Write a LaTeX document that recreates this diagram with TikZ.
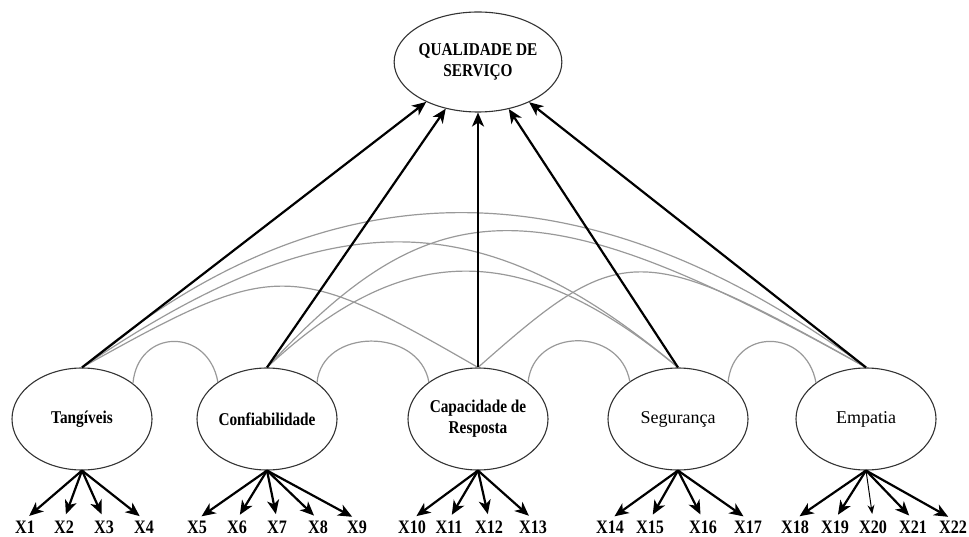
\documentclass[tikz,border=0pt]{standalone}
\usepackage{fontspec}
\setmainfont{Liberation Serif}
\newfontfamily\condserif{Liberation Serif}[FakeStretch=0.85]
\usepackage{tikz}
\usetikzlibrary{shapes,arrows,arrows.meta,positioning}
\tikzstyle{factor} = [ellipse, draw=black!80, line width=1.1pt,
    minimum width=140pt, minimum height=102pt, inner sep=0pt, align=center,
    font=\fontsize{18}{21}\selectfont]
\tikzstyle{condlabel} = [font=\condserif\bfseries\fontsize{18}{21}\selectfont]
\tikzstyle{indicator} = [inner xsep=1pt, inner ysep=1pt,
    font=\condserif\bfseries\fontsize{19}{21}\selectfont]
\tikzstyle{line} = [draw, line width=2.2pt, -{Stealth[length=14pt, width=12pt, inset=4pt]}]
\tikzstyle{itemline} = [line, shorten >=5.5pt]
\tikzstyle{weakline} = [draw, line width=1pt, shorten >=5.5pt,
    -{Stealth[length=9pt, width=7pt, inset=3pt]}]
\tikzstyle{cov} = [draw, black!40, line width=1.2pt]

\begin{document}
\begin{tikzpicture}[x=1pt, y=-1pt]
    \useasboundingbox (0,0) rectangle (969,537);
    % Place nodes
    \node [factor, condlabel] (tang) at (82,419) {Tangíveis};
    \node [factor, condlabel, right of=tang, node distance=185pt] (conf) {Confiabilidade};
    \node [factor, condlabel, right of=conf, node distance=211pt] (cap) {Capacidade de\\Resposta};
    \node [factor, right of=cap, node distance=200pt] (seg) {Segurança};
    \node [factor, right of=seg, node distance=188pt] (emp) {Empatia};
    \node [factor, condlabel, minimum width=160pt, minimum height=100pt,
        above of=cap, node distance=357pt] (qs) {QUALIDADE DE\\SERVIÇO};
    % Indicators
    \node [indicator] (x1) at (25,527) {X1};
    \node [indicator] (x2) at (64,527) {X2};
    \node [indicator] (x3) at (104,527) {X3};
    \node [indicator] (x4) at (144,527) {X4};
    \node [indicator] (x5) at (197,527) {X5};
    \node [indicator] (x6) at (237,527) {X6};
    \node [indicator] (x7) at (277,527) {X7};
    \node [indicator] (x8) at (318,527) {X8};
    \node [indicator] (x9) at (357,527) {X9};
    \node [indicator] (x10) at (412,527) {X10};
    \node [indicator] (x11) at (449,527) {X11};
    \node [indicator] (x12) at (489,527) {X12};
    \node [indicator] (x13) at (533,527) {X13};
    \node [indicator] (x14) at (610,527) {X14};
    \node [indicator] (x15) at (650,527) {X15};
    \node [indicator] (x16) at (703,527) {X16};
    \node [indicator] (x17) at (748,527) {X17};
    \node [indicator] (x18) at (795,527) {X18};
    \node [indicator] (x19) at (835,527) {X19};
    \node [indicator] (x20) at (873,527) {X20};
    \node [indicator] (x21) at (913,527) {X21};
    \node [indicator] (x22) at (953,527) {X22};
    % Covariances
    \path [cov] (tang.35) .. controls +(5,-55) and +(-10,-55) .. (conf.143);
    \path [cov] (conf.36) .. controls +(5,-55) and +(-10,-55) .. (cap.143);
    \path [cov] (cap.36) .. controls +(5,-55) and +(-10,-55) .. (seg.142);
    \path [cov] (seg.36) .. controls +(5,-55) and +(-10,-55) .. (emp.144);
    \path [cov] (tang.north) .. controls (328,161) and (586,161) .. (emp.north);
    \path [cov] (tang.north) .. controls (329,200) and (479,200) .. (seg.north);
    \path [cov] (tang.north) .. controls (276,259) and (290,259) .. (cap.north);
    \path [cov] (conf.north) .. controls (436,185) and (539,185) .. (emp.north);
    \path [cov] (conf.north) .. controls (404,239) and (523,239) .. (seg.north);
    \path [cov] (cap.north) .. controls (622,240) and (639,240) .. (emp.north);
    % Draw edges
    \path [line] (tang.north) -- (qs);
    \path [line] (conf.north) -- (qs);
    \path [line] (cap.north) -- (qs);
    \path [line] (seg.north) -- (qs);
    \path [line] (emp.north) -- (qs);
    \path [itemline] (tang.south) -- (x1.north);
    \path [itemline] (tang.south) -- (x2.north);
    \path [itemline] (tang.south) -- (x3.north);
    \path [itemline] (tang.south) -- (x4.north);
    \path [itemline] (conf.south) -- (x5.north);
    \path [itemline] (conf.south) -- (x6.north);
    \path [itemline] (conf.south) -- (x7.north);
    \path [itemline] (conf.south) -- (x8.north);
    \path [itemline] (conf.south) -- (x9.north);
    \path [itemline] (cap.south) -- (x10.north);
    \path [itemline] (cap.south) -- (x11.north);
    \path [itemline] (cap.south) -- (x12.north);
    \path [itemline] (cap.south) -- (x13.north);
    \path [itemline] (seg.south) -- (x14.north);
    \path [itemline] (seg.south) -- (x15.north);
    \path [itemline] (seg.south) -- (x16.north);
    \path [itemline] (seg.south) -- (x17.north);
    \path [itemline] (emp.south) -- (x18.north);
    \path [itemline] (emp.south) -- (x19.north);
    \path [weakline] (emp.south) -- (x20.north);
    \path [itemline] (emp.south) -- (x21.north);
    \path [itemline] (emp.south) -- (x22.north);
\end{tikzpicture}
\end{document}
